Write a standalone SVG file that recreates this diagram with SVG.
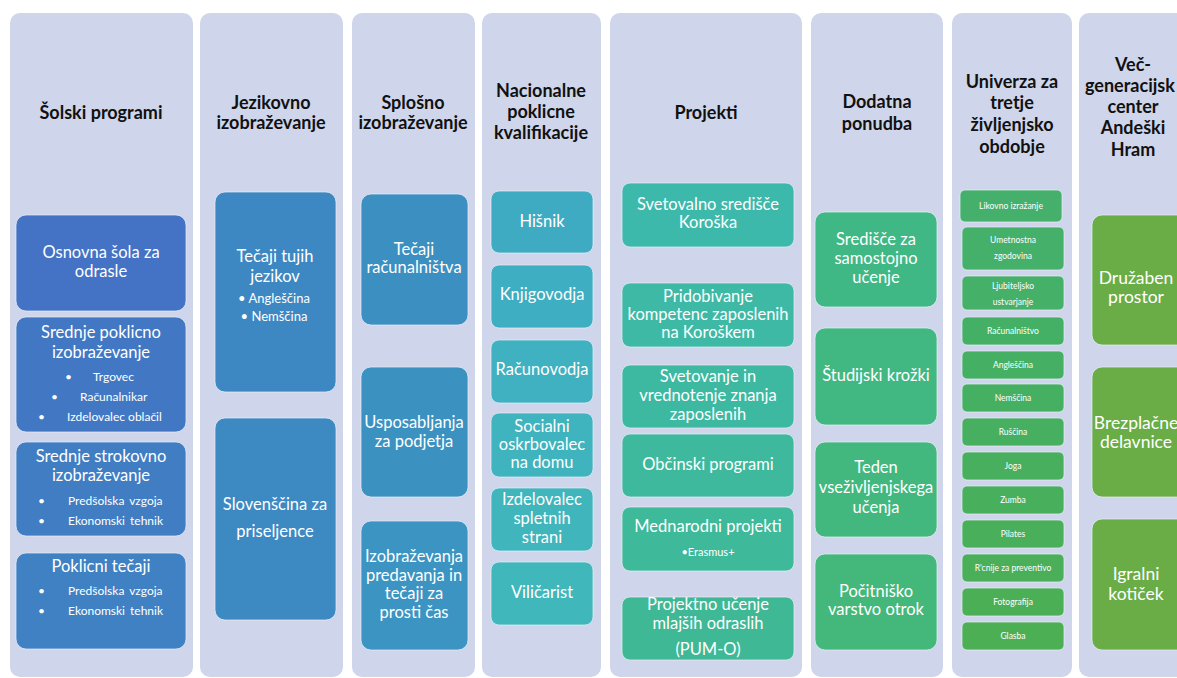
<svg xmlns="http://www.w3.org/2000/svg" width="1177" height="678" viewBox="0 0 1177 678">
<style>
.col{fill:#cfd5ea}
.bx{stroke:#e8eef8;stroke-opacity:0.7;stroke-width:1}
text{font-family:Lato,"Liberation Sans",sans-serif;text-anchor:middle}
.h{font-size:18px;font-weight:bold;fill:#111}
.t{font-size:16.5px;fill:#fff}
.s{font-size:12px;fill:#fff}
.b{font-size:12px;fill:#fff;text-anchor:start}
.xs{font-size:8.5px;fill:#fff}
.l{font-size:17.5px;fill:#fff}
</style>
<rect width="1177" height="678" fill="#fff"/>
<g id="columns">
<rect class="col" x="10" y="13" width="183" height="664" rx="10"/>
<rect class="col" x="200" y="13" width="143" height="664" rx="10"/>
<rect class="col" x="352" y="13" width="123" height="664" rx="10"/>
<rect class="col" x="482" y="13" width="119" height="664" rx="10"/>
<rect class="col" x="610" y="13" width="192" height="664" rx="10"/>
<rect class="col" x="811" y="13" width="132" height="664" rx="10"/>
<rect class="col" x="952" y="13" width="120" height="664" rx="10"/>
<rect class="col" x="1079" y="13" width="130" height="664" rx="10"/>
</g>
<g id="headers">
<text class="h" x="101" y="119">Šolski programi</text>
<text class="h" x="271" y="109">Jezikovno</text>
<text class="h" x="271" y="129">izobraževanje</text>
<text class="h" x="413" y="109">Splošno</text>
<text class="h" x="413" y="129">izobraževanje</text>
<text class="h" x="541" y="97">Nacionalne</text>
<text class="h" x="541" y="118">poklicne</text>
<text class="h" x="541" y="139">kvalifikacije</text>
<text class="h" x="706" y="119">Projekti</text>
<text class="h" x="877" y="108">Dodatna</text>
<text class="h" x="877" y="130">ponudba</text>
<text class="h" x="1012" y="88">Univerza  za</text>
<text class="h" x="1012" y="109">tretje</text>
<text class="h" x="1012" y="131">življenjsko</text>
<text class="h" x="1012" y="153">obdobje</text>
<text class="h" x="1133" y="71">Več-</text>
<text class="h" x="1085" y="92" style="text-anchor:start">generacijsk</text>
<text class="h" x="1133" y="113">center</text>
<text class="h" x="1133" y="134">Andeški</text>
<text class="h" x="1133" y="156">Hram</text>
</g>
<g id="c1-osnovna">
<rect class="bx" x="16" y="215" width="170" height="96" rx="10" fill="#4472c4"/>
<text class="t" x="101" y="258">Osnovna šola za</text>
<text class="t" x="101" y="277">odrasle</text>
</g>
<g id="c1-poklicno">
<rect class="bx" x="16" y="317" width="170" height="115" rx="10" fill="#4278c3"/>
<text class="t" x="101" y="338">Srednje poklicno</text>
<text class="t" x="101" y="358">izobraževanje</text>
<text class="b" x="65" y="381">•</text><text class="b" x="93" y="381">Trgovec</text>
<text class="b" x="51" y="401">•</text><text class="b" x="80" y="401">Računalnikar</text>
<text class="b" x="38" y="421">•</text><text class="b" x="67" y="421">Izdelovalec oblačil</text>
</g>
<g id="c1-strokovno">
<rect class="bx" x="16" y="442" width="170" height="94" rx="10" fill="#407dc3"/>
<text class="t" x="101" y="462">Srednje strokovno</text>
<text class="t" x="101" y="481">izobraževanje</text>
<text class="b" x="38" y="505">•</text><text class="b" x="68" y="505" word-spacing="2">Predšolska vzgoja</text>
<text class="b" x="38" y="525">•</text><text class="b" x="68" y="525" word-spacing="2">Ekonomski tehnik</text>
</g>
<g id="c1-tecaji">
<rect class="bx" x="16" y="553" width="170" height="96" rx="10" fill="#3f81c3"/>
<text class="t" x="101" y="572">Poklicni tečaji</text>
<text class="b" x="38" y="595">•</text><text class="b" x="68" y="595" word-spacing="2">Predšolska vzgoja</text>
<text class="b" x="38" y="615">•</text><text class="b" x="68" y="615" word-spacing="2">Ekonomski tehnik</text>
</g>
<g id="c2-tuji">
<rect class="bx" x="215" y="192" width="121" height="200" rx="10" fill="#3d88c2"/>
<text class="t" x="275" y="262">Tečaji tujih</text>
<text class="t" x="275" y="282">jezikov</text>
<text class="s" x="274" y="303" style="font-size:13px">• Angleščina</text>
<text class="s" x="274" y="321" style="font-size:13px">• Nemščina</text>
</g>
<g id="c2-slovenscina">
<rect class="bx" x="215" y="418" width="121" height="202" rx="10" fill="#3d89c2"/>
<text class="t" x="275" y="510">Slovenščina za</text>
<text class="t" x="275" y="537">priseljence</text>
</g>
<g id="c3-racunalnistvo">
<rect class="bx" x="361" y="194" width="107" height="131" rx="10" fill="#3b90c1"/>
<text class="t" x="414" y="255">Tečaji</text>
<text class="t" x="414" y="273">računalništva</text>
</g>
<g id="c3-podjetja">
<rect class="bx" x="361" y="367" width="107" height="130" rx="10" fill="#3b92c1"/>
<text class="t" x="414" y="428">Usposabljanja</text>
<text class="t" x="414" y="447">za podjetja</text>
</g>
<g id="c3-prosti">
<rect class="bx" x="361" y="521" width="107" height="129" rx="10" fill="#3b94c1"/>
<text class="t" x="414" y="562">Izobraževanja</text>
<text class="t" x="414" y="581">predavanja in</text>
<text class="t" x="414" y="599">tečaji za</text>
<text class="t" x="414" y="618">prosti čas</text>
</g>
<g id="c4-hisnik">
<rect class="bx" x="491" y="191" width="102" height="62" rx="8" fill="#3eabc3"/>
<text class="t" x="542" y="227">Hišnik</text>
</g>
<g id="c4-knjigovodja">
<rect class="bx" x="491" y="265" width="102" height="63" rx="8" fill="#3eaec2"/>
<text class="t" x="542" y="300">Knjigovodja</text>
</g>
<g id="c4-racunovodja">
<rect class="bx" x="491" y="340" width="102" height="63" rx="8" fill="#3fb1c0"/>
<text class="t" x="542" y="375">Računovodja</text>
</g>
<g id="c4-socialni">
<rect class="bx" x="491" y="413" width="102" height="64" rx="8" fill="#3fb3be"/>
<text class="t" x="542" y="432">Socialni</text>
<text class="t" x="542" y="450">oskrbovalec</text>
<text class="t" x="542" y="468">na domu</text>
</g>
<g id="c4-spletni">
<rect class="bx" x="491" y="488" width="102" height="63" rx="8" fill="#40b5bc"/>
<text class="t" x="542" y="505">Izdelovalec</text>
<text class="t" x="542" y="524">spletnih</text>
<text class="t" x="542" y="543">strani</text>
</g>
<g id="c4-vilicarist">
<rect class="bx" x="491" y="562" width="102" height="63" rx="8" fill="#40b7ba"/>
<text class="t" x="542" y="598">Viličarist</text>
</g>
<g id="c5-svetovalno">
<rect class="bx" x="622" y="183" width="172" height="64" rx="8" fill="#3db9ab"/>
<text class="t" x="708" y="210">Svetovalno središče</text>
<text class="t" x="708" y="228">Koroška</text>
</g>
<g id="c5-pridobivanje">
<rect class="bx" x="622" y="283" width="172" height="64" rx="8" fill="#3db9a6"/>
<text class="t" x="708" y="302">Pridobivanje</text>
<text class="t" x="708" y="320">kompetenc zaposlenih</text>
<text class="t" x="708" y="338">na Koroškem</text>
</g>
<g id="c5-svetovanje">
<rect class="bx" x="622" y="365" width="172" height="63" rx="8" fill="#3db9a2"/>
<text class="t" x="708" y="382">Svetovanje in</text>
<text class="t" x="708" y="401">vrednotenje znanja</text>
<text class="t" x="708" y="420">zaposlenih</text>
</g>
<g id="c5-obcinski">
<rect class="bx" x="622" y="434" width="172" height="63" rx="8" fill="#3eb99e"/>
<text class="t" x="708" y="470">Občinski programi</text>
</g>
<g id="c5-mednarodni">
<rect class="bx" x="622" y="507" width="172" height="64" rx="8" fill="#3eb99a"/>
<text class="t" x="708" y="532">Mednarodni projekti</text>
<text class="s" x="708" y="556" style="font-size:11px">•Erasmus+</text>
</g>
<g id="c5-pumo">
<rect class="bx" x="622" y="597" width="172" height="63" rx="8" fill="#3fb896"/>
<text class="t" x="708" y="610">Projektno učenje</text>
<text class="t" x="708" y="629">mlajših odraslih</text>
<text class="t" x="708" y="655">(PUM-O)</text>
</g>
<g id="c6-sredisce">
<rect class="bx" x="815" y="212" width="122" height="95" rx="10" fill="#40b886"/>
<text class="t" x="876" y="245">Središče za</text>
<text class="t" x="876" y="264">samostojno</text>
<text class="t" x="876" y="283">učenje</text>
</g>
<g id="c6-krozki">
<rect class="bx" x="815" y="328" width="122" height="97" rx="10" fill="#41b882"/>
<text class="t" x="876" y="381">Študijski krožki</text>
</g>
<g id="c6-teden">
<rect class="bx" x="815" y="442" width="122" height="95" rx="10" fill="#42b87e"/>
<text class="t" x="876" y="473">Teden</text>
<text class="t" x="876" y="493">vseživljenjskega</text>
<text class="t" x="876" y="513">učenja</text>
</g>
<g id="c6-varstvo">
<rect class="bx" x="815" y="554" width="122" height="96" rx="10" fill="#43b87a"/>
<text class="t" x="876" y="597">Počitniško</text>
<text class="t" x="876" y="615">varstvo otrok</text>
</g>
<g id="c7-likovno"><rect class="bx" x="960" y="190" width="102" height="32" rx="5" fill="#44b06c"/><text class="xs" x="1011" y="209">Likovno izražanje</text></g>
<g id="c7-umetnostna"><rect class="bx" x="962" y="227" width="102" height="43" rx="5" fill="#44b06a"/><text class="xs" x="1013" y="243">Umetnostna</text><text class="xs" x="1013" y="259">zgodovina</text></g>
<g id="c7-ljubiteljsko"><rect class="bx" x="962" y="276" width="102" height="34" rx="5" fill="#44b068"/><text class="xs" x="1013" y="289">Ljubiteljsko</text><text class="xs" x="1013" y="305">ustvarjanje</text></g>
<g id="c7-racunalnistvo"><rect class="bx" x="962" y="317" width="102" height="28" rx="5" fill="#44b066"/><text class="xs" x="1013" y="334">Računalništvo</text></g>
<g id="c7-anglescina"><rect class="bx" x="962" y="351" width="102" height="28" rx="5" fill="#45b064"/><text class="xs" x="1013" y="368">Angleščina</text></g>
<g id="c7-nemscina"><rect class="bx" x="962" y="384" width="102" height="28" rx="5" fill="#45b062"/><text class="xs" x="1013" y="401">Nemščina</text></g>
<g id="c7-ruscina"><rect class="bx" x="962" y="418" width="102" height="28" rx="5" fill="#46af60"/><text class="xs" x="1013" y="435">Ruščina</text></g>
<g id="c7-joga"><rect class="bx" x="962" y="452" width="102" height="28" rx="5" fill="#47af5e"/><text class="xs" x="1013" y="469">Joga</text></g>
<g id="c7-zumba"><rect class="bx" x="962" y="486" width="102" height="28" rx="5" fill="#48af5c"/><text class="xs" x="1013" y="503">Zumba</text></g>
<g id="c7-pilates"><rect class="bx" x="962" y="520" width="102" height="28" rx="5" fill="#49af5a"/><text class="xs" x="1013" y="537">Pilates</text></g>
<g id="c7-vaje"><rect class="bx" x="962" y="554" width="102" height="28" rx="5" fill="#4aaf58"/><text class="xs" x="1013" y="571">R'cnije za preventivo</text></g>
<g id="c7-fotografija"><rect class="bx" x="962" y="588" width="102" height="28" rx="5" fill="#4baf56"/><text class="xs" x="1013" y="605">Fotografija</text></g>
<g id="c7-glasba"><rect class="bx" x="962" y="622" width="102" height="28" rx="5" fill="#4caf54"/><text class="xs" x="1013" y="639">Glasba</text></g>
<g id="c8-druzaben">
<rect class="bx" x="1092" y="215" width="110" height="130" rx="10" fill="#6aad46"/>
<text class="l" x="1136" y="284">Družaben</text>
<text class="l" x="1136" y="303">prostor</text>
</g>
<g id="c8-delavnice">
<rect class="bx" x="1092" y="367" width="110" height="130" rx="10" fill="#6aad46"/>
<text class="l" x="1136" y="429">Brezplačne</text>
<text class="l" x="1136" y="448">delavnice</text>
</g>
<g id="c8-koticek">
<rect class="bx" x="1092" y="519" width="110" height="131" rx="10" fill="#6aad46"/>
<text class="l" x="1136" y="580">Igralni</text>
<text class="l" x="1136" y="600">kotiček</text>
</g>
</svg>
